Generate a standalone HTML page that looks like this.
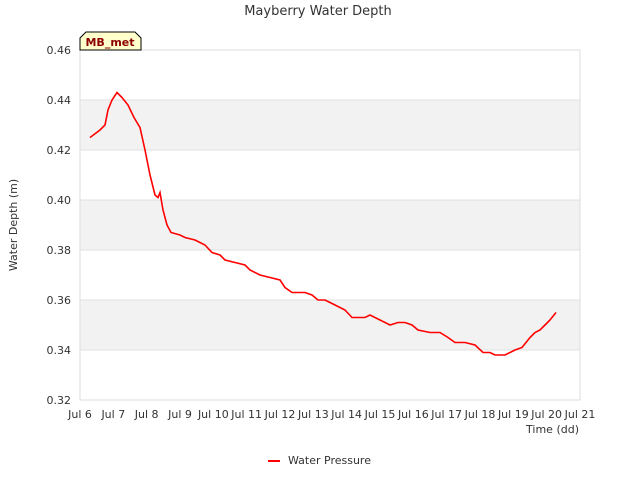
<!DOCTYPE html>
<html><head><meta charset="utf-8"><style>
body{margin:0;background:#fff;font-family:"Liberation Sans","DejaVu Sans",sans-serif}
</style></head><body>
<svg width="640" height="480" xmlns="http://www.w3.org/2000/svg" font-family="DejaVu Sans, Liberation Sans, sans-serif">
<text x="318" y="15" text-anchor="middle" font-size="13" fill="#333">Mayberry Water Depth</text>
<g id="bands"></g><g id="grid"></g>
<rect x="80" y="50" width="500" height="350" fill="none" stroke="#ddd"/>
<g id="yticks" font-size="11" fill="#333"></g>
<g id="xticks" font-size="11" fill="#333"></g>
<text transform="translate(17,225) rotate(-90)" text-anchor="middle" font-size="11" fill="#333">Water Depth (m)</text>
<text x="579" y="433" text-anchor="end" font-size="11" fill="#333">Time (dd)</text>
<polyline id="line" fill="none" stroke="#ff0000" stroke-width="1.6"/>
<g>
<path d="M80,50 L80,38 L86,32 L135,32 L141,38 L141,50 Z" fill="#ffffcc" stroke="#000" stroke-width="1"/>
<text x="110" y="46" text-anchor="middle" font-size="11" font-weight="bold" fill="#8b0000">MB_met</text>
</g>
<g>
<line x1="268" y1="461" x2="280" y2="461" stroke="#ff0000" stroke-width="2"/>
<text x="288" y="464" font-size="11" fill="#333">Water Pressure</text>
</g>
</svg>
<script>
const days=[0.30,0.60,0.75,0.84,0.96,1.11,1.26,1.44,1.62,1.80,1.95,2.10,2.25,2.34,2.40,2.49,2.61,2.73,3.00,3.15,3.45,3.75,3.96,4.20,4.35,4.65,4.95,5.10,5.40,5.70,6.00,6.15,6.36,6.75,6.96,7.14,7.35,7.50,7.65,7.95,8.16,8.55,8.70,9.00,9.30,9.54,9.75,9.96,10.14,10.50,10.80,11.04,11.25,11.55,11.85,12.09,12.30,12.45,12.75,13.05,13.26,13.50,13.65,13.80,13.95,14.10,14.28];
const depth=[0.425,0.428,0.430,0.436,0.440,0.443,0.441,0.438,0.433,0.429,0.420,0.410,0.402,0.401,0.403,0.396,0.390,0.387,0.386,0.385,0.384,0.382,0.379,0.378,0.376,0.375,0.374,0.372,0.370,0.369,0.368,0.365,0.363,0.363,0.362,0.360,0.360,0.359,0.358,0.356,0.353,0.353,0.354,0.352,0.350,0.351,0.351,0.350,0.348,0.347,0.347,0.345,0.343,0.343,0.342,0.339,0.339,0.338,0.338,0.340,0.341,0.345,0.347,0.348,0.350,0.352,0.355];
const yTicks=[0.32,0.34,0.36,0.38,0.40,0.42,0.44,0.46];
const xLabels=["Jul 6","Jul 7","Jul 8","Jul 9","Jul 10","Jul 11","Jul 12","Jul 13","Jul 14","Jul 15","Jul 16","Jul 17","Jul 18","Jul 19","Jul 20","Jul 21"];
const X=d=>80+d*500/15, Y=v=>400-(v-0.32)*350/0.14;
const NS="http://www.w3.org/2000/svg";
function mk(t,a,p){const e=document.createElementNS(NS,t);for(const k in a)e.setAttribute(k,a[k]);p.appendChild(e);return e;}
const bands=document.getElementById('bands'),grid=document.getElementById('grid'),yt=document.getElementById('yticks'),xt=document.getElementById('xticks');
for(let i=0;i<yTicks.length-1;i++){if(i%2==1){const r=mk('rect',{x:80,y:Y(yTicks[i+1]),width:500,height:Y(yTicks[i])-Y(yTicks[i+1]),fill:'#f2f2f2'},bands);

}}
yTicks.forEach(v=>{const l=mk('line',{x1:80,x2:580,y1:Y(v),y2:Y(v),stroke:'#e0e0e0'},grid);


const t=mk('text',{x:71,y:Y(v)+4,'text-anchor':'end'},yt);t.textContent=v.toFixed(2);

});
xLabels.forEach((s,i)=>{const t=mk('text',{x:X(i),y:418,'text-anchor':'middle'},xt);t.textContent=s;

});
document.getElementById('line').setAttribute('points',days.map((d,i)=>X(d).toFixed(1)+','+Y(depth[i]).toFixed(1)).join(' '));
</script>
</body></html>
